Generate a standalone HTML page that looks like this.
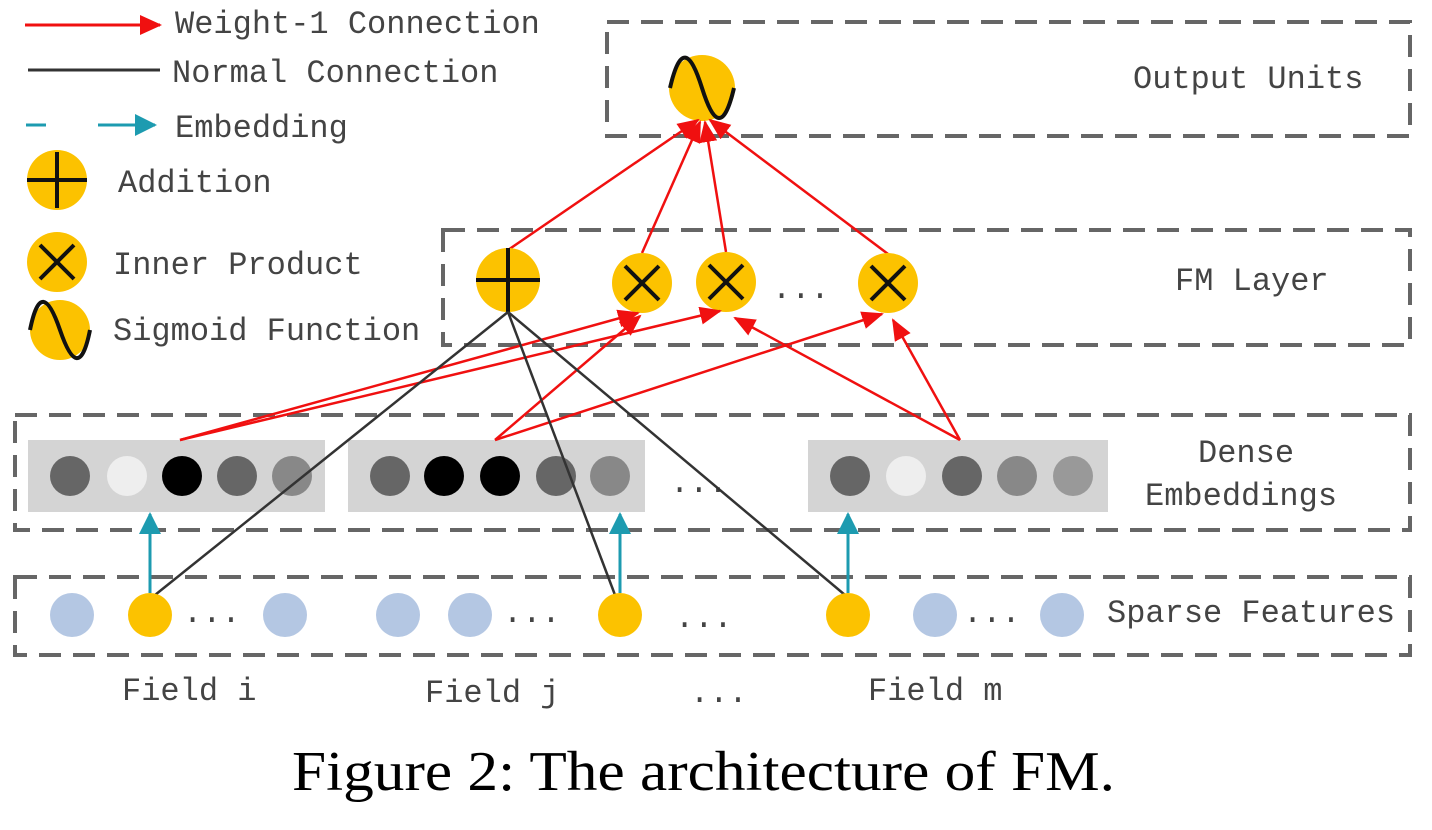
<!DOCTYPE html>
<html><head><meta charset="utf-8"><style>
html,body{margin:0;padding:0;background:#fff;}
svg{display:block}
.t{font-family:"Liberation Mono",monospace;font-size:32px;fill:#444;}
</style></head><body>
<svg width="1432" height="830" viewBox="0 0 1432 830" xmlns="http://www.w3.org/2000/svg">
<defs>
<marker id="arL" markerWidth="22" markerHeight="20" refX="20" refY="10" orient="auto" markerUnits="userSpaceOnUse"><path d="M0,0 L22,10 L0,20 z" fill="#f01010"/></marker>
<marker id="ar2" markerWidth="22" markerHeight="18" refX="20" refY="9" orient="auto" markerUnits="userSpaceOnUse"><path d="M0,0 L22,9 L0,18 z" fill="#f01010"/></marker>
<marker id="tl" markerWidth="22" markerHeight="22" refX="20" refY="11" orient="auto" markerUnits="userSpaceOnUse"><path d="M0,0 L22,11 L0,22 z" fill="#1d9bb0"/></marker>
</defs>
<g fill="none" stroke="#666" stroke-width="4" stroke-dasharray="22,12">
<rect x="607" y="22" width="803" height="114"/>
<rect x="443" y="230" width="967" height="115"/>
<rect x="15" y="415" width="1395" height="115"/>
<rect x="15" y="577" width="1395" height="78"/>
</g>
<line x1="25" y1="25" x2="160" y2="25" stroke="#f01010" stroke-width="3" marker-end="url(#arL)"/>
<text class="t" x="175" y="33">Weight-1 Connection</text>
<line x1="28" y1="70" x2="160" y2="70" stroke="#333" stroke-width="3"/>
<text class="t" x="172" y="82">Normal Connection</text>
<line x1="26" y1="125" x2="46" y2="125" stroke="#1d9bb0" stroke-width="3"/>
<line x1="98" y1="125" x2="155" y2="125" stroke="#1d9bb0" stroke-width="3" marker-end="url(#tl)"/>
<text class="t" x="175" y="137">Embedding</text>
<circle cx="57" cy="180" r="30" fill="#fcc200"/>
<path d="M57,152V208M27,180H87" stroke="#111" stroke-width="4"/>
<text class="t" x="118" y="192">Addition</text>
<circle cx="57" cy="262" r="30" fill="#fcc200"/>
<path d="M40,245L74,279M74,245L40,279" stroke="#111" stroke-width="4"/>
<text class="t" x="113" y="274">Inner Product</text>
<circle cx="60" cy="330" r="30" fill="#fcc200"/>
<path d="M30,330C38,290 48,295 60,330C72,365 82,370 90,330" stroke="#111" stroke-width="4" fill="none"/>
<text class="t" x="113" y="340">Sigmoid Function</text>
<circle cx="702" cy="88" r="33" fill="#fcc200"/>
<path d="M670,88C680,45 690,50 702,88C714,126 724,130 734,88" stroke="#111" stroke-width="4" fill="none"/>
<text class="t" x="1133" y="88">Output Units</text>
<g stroke="#f01010" stroke-width="2.5" marker-end="url(#ar2)">
<line x1="508" y1="250" x2="698" y2="120"/>
<line x1="642" y1="253" x2="700" y2="122"/>
<line x1="726" y1="252" x2="705" y2="122"/>
<line x1="888" y1="254" x2="710" y2="120"/>
</g>
<circle cx="508" cy="280" r="32" fill="#fcc200"/>
<path d="M508,248V312M476,280H540" stroke="#111" stroke-width="4"/>
<g stroke="#111" stroke-width="4">
<circle cx="642" cy="283" r="30" fill="#fcc200" stroke="none"/><path d="M625,266L659,300M659,266L625,300"/>
<circle cx="726" cy="282" r="30" fill="#fcc200" stroke="none"/><path d="M709,265L743,299M743,265L709,299"/>
<circle cx="888" cy="283" r="30" fill="#fcc200" stroke="none"/><path d="M871,266L905,300M905,266L871,300"/>
</g>
<text class="t" x="772" y="298">...</text>
<text class="t" x="1175" y="290">FM Layer</text>
<rect x="28" y="440" width="297" height="72" fill="#d4d4d4"/>
<rect x="348" y="440" width="297" height="72" fill="#d4d4d4"/>
<rect x="808" y="440" width="300" height="72" fill="#d4d4d4"/>
<g>
<circle cx="70" cy="476" r="20" fill="#666"/><circle cx="127" cy="476" r="20" fill="#eee"/><circle cx="182" cy="476" r="20" fill="#000"/><circle cx="237" cy="476" r="20" fill="#666"/><circle cx="292" cy="476" r="20" fill="#888"/>
<circle cx="390" cy="476" r="20" fill="#666"/><circle cx="444" cy="476" r="20" fill="#000"/><circle cx="500" cy="476" r="20" fill="#000"/><circle cx="556" cy="476" r="20" fill="#666"/><circle cx="610" cy="476" r="20" fill="#888"/>
<circle cx="850" cy="476" r="20" fill="#666"/><circle cx="906" cy="476" r="20" fill="#eee"/><circle cx="962" cy="476" r="20" fill="#666"/><circle cx="1017" cy="476" r="20" fill="#888"/><circle cx="1073" cy="476" r="20" fill="#999"/>
</g>
<text class="t" x="670" y="492">...</text>
<text class="t" x="1198" y="462">Dense</text>
<text class="t" x="1145" y="505">Embeddings</text>
<g stroke="#f01010" stroke-width="2.5" marker-end="url(#ar2)">
<line x1="180" y1="440" x2="638" y2="313"/>
<line x1="180" y1="440" x2="720" y2="311"/>
<line x1="495" y1="440" x2="640" y2="316"/>
<line x1="495" y1="440" x2="882" y2="314"/>
<line x1="960" y1="440" x2="735" y2="318"/>
<line x1="960" y1="440" x2="893" y2="320"/>
</g>
<g stroke="#333" stroke-width="2.5">
<line x1="508" y1="312" x2="155" y2="595"/>
<line x1="508" y1="312" x2="615" y2="595"/>
<line x1="508" y1="312" x2="845" y2="595"/>
</g>
<g stroke="#1d9bb0" stroke-width="3" marker-end="url(#tl)">
<line x1="150" y1="593" x2="150" y2="514"/>
<line x1="620" y1="593" x2="620" y2="514"/>
<line x1="848" y1="593" x2="848" y2="514"/>
</g>
<g fill="#b4c7e3">
<circle cx="72" cy="615" r="22"/><circle cx="285" cy="615" r="22"/><circle cx="398" cy="615" r="22"/><circle cx="470" cy="615" r="22"/><circle cx="935" cy="615" r="22"/><circle cx="1062" cy="615" r="22"/>
</g>
<g fill="#fcc200"><circle cx="150" cy="615" r="22"/><circle cx="620" cy="615" r="22"/><circle cx="848" cy="615" r="22"/></g>
<text class="t" x="183" y="622">...</text>
<text class="t" x="503" y="622">...</text>
<text class="t" x="675" y="627">...</text>
<text class="t" x="963" y="622">...</text>
<text class="t" x="1107" y="622">Sparse Features</text>
<text class="t" x="122" y="700">Field i</text>
<text class="t" x="425" y="702">Field j</text>
<text class="t" x="690" y="702">...</text>
<text class="t" x="868" y="700">Field m</text>
<text x="292" y="790" font-family="Liberation Serif, serif" font-size="56" fill="#000" textLength="823" lengthAdjust="spacingAndGlyphs">Figure 2: The architecture of FM.</text>
</svg>
</body></html>
